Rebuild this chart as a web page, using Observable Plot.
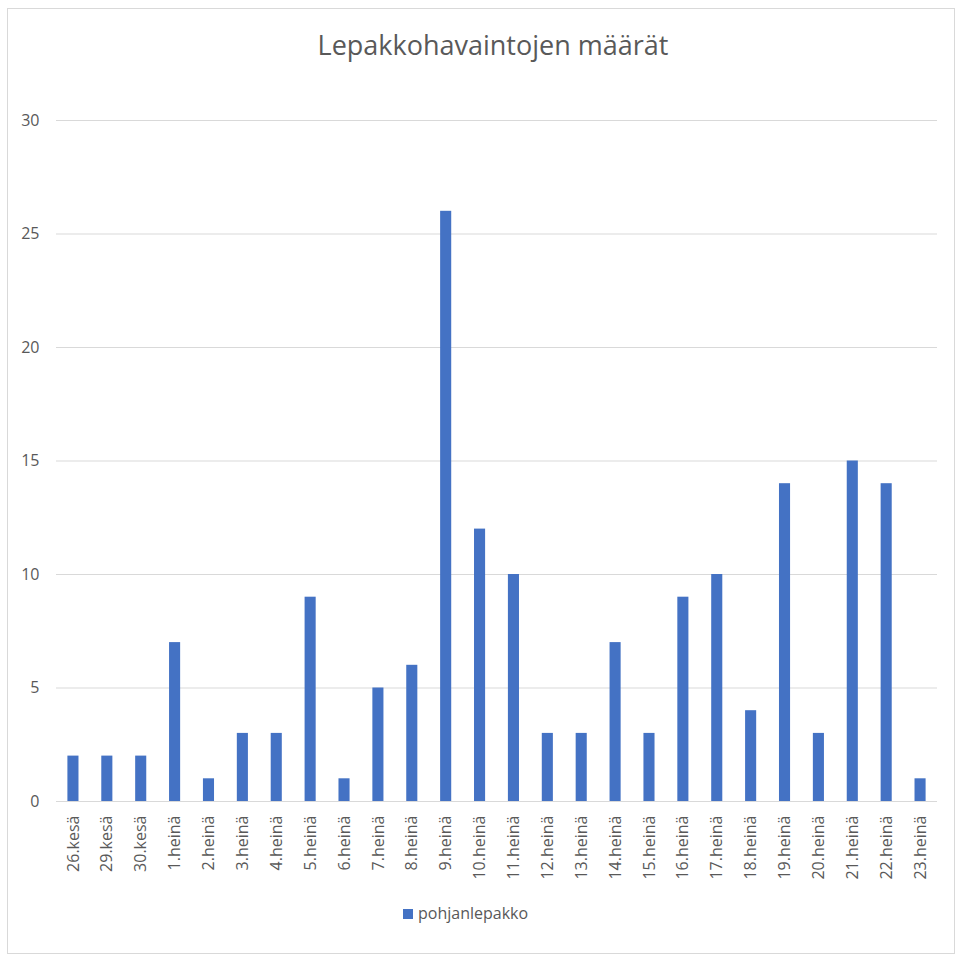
<!DOCTYPE html>
<html>
<head>
<meta charset="utf-8">
<script src="https://cdn.jsdelivr.net/npm/d3@7"></script>
<script src="https://cdn.jsdelivr.net/npm/@observablehq/plot@0.6"></script>
<style>
  html, body { margin: 0; padding: 0; background: #fff; }
  #wrap { position: relative; width: 962px; height: 960px; font-family: "Open Sans", sans-serif; }
  #frame { position: absolute; left: 7px; top: 8px; width: 948px; height: 946px; border: 1px solid #d9d9d9; box-sizing: border-box; }
  #title { position: absolute; left: 0; width: 986px; top: 27px; text-align: center; font-size: 27px; color: #595959; line-height: 36px; }
  #chart { position: absolute; left: 0; top: 0; }
  #legend { position: absolute; top: 902px; left: 403px; font-size: 16px; color: #595959; display: flex; align-items: center; line-height: 22px; }
  #legend span.sw { display: inline-block; width: 10px; height: 10px; background: #4472C4; margin-right: 5px; margin-top: 2px; }
</style>
</head>
<body>
<div id="wrap">
  <div id="frame"></div>
  <div id="chart"></div>
  <div id="title">Lepakkohavaintojen määrät</div>
  <div id="legend"><span class="sw"></span><span>pohjanlepakko</span></div>
</div>
<script>
const dates = ["26.kesä","29.kesä","30.kesä","1.heinä","2.heinä","3.heinä","4.heinä","5.heinä","6.heinä","7.heinä","8.heinä","9.heinä","10.heinä","11.heinä","12.heinä","13.heinä","14.heinä","15.heinä","16.heinä","17.heinä","18.heinä","19.heinä","20.heinä","21.heinä","22.heinä","23.heinä"];
const counts = [2,2,2,7,1,3,3,9,1,5,6,26,12,10,3,3,7,3,9,10,4,14,3,15,14,1];
const yTicks = [0,5,10,15,20,25,30];
const seriesName = "pohjanlepakko";

const data = dates.map((d, i) => ({date: d, count: counts[i], series: seriesName}));

const chart = Plot.plot({
  width: 962,
  height: 900,
  marginTop: 120,
  marginBottom: 99,
  marginLeft: 56,
  marginRight: 25,
  style: {fontFamily: "Open Sans, sans-serif", fontSize: "16px", color: "#595959", background: "transparent"},
  x: {domain: dates, padding: 0, round: false, label: null},
  y: {domain: [0, 30], label: null},
  marks: [
    Plot.gridY(yTicks, {stroke: "#d9d9d9", strokeOpacity: 1}),
    Plot.ruleY([0], {stroke: "#d9d9d9"}),
    Plot.barY(data, {x: "date", y: "count", fill: "#4472C4", insetLeft: 11.4, insetRight: 11.4}),
    Plot.axisY(yTicks, {tickSize: 0, tickPadding: 17, label: null, fontSize: 16}),
    Plot.axisX({tickSize: 0, tickPadding: 14, tickRotate: -90, label: null, fontSize: 16})
  ]
});
document.getElementById("chart").appendChild(chart);
</script>
</body>
</html>
